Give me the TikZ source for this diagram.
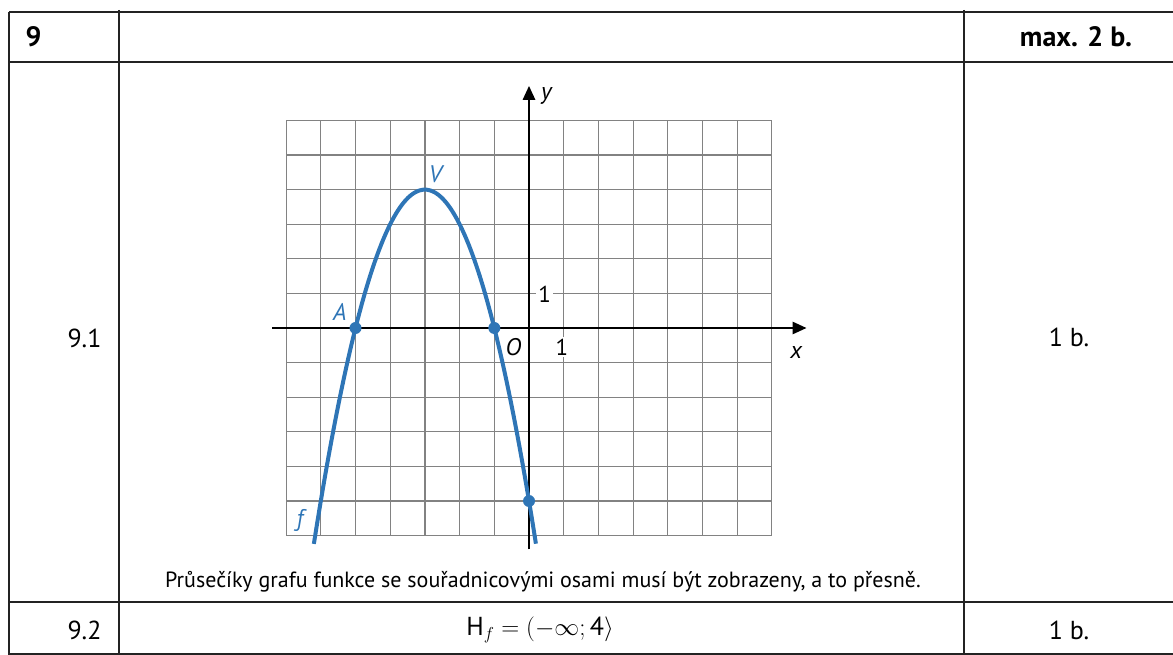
\documentclass[tikz,border=0pt]{standalone}
\usepackage{fontspec}
\setmainfont{PT Sans}
\usetikzlibrary{arrows.meta}
\definecolor{curveblue}{RGB}{46,117,182}
\definecolor{gridgray}{RGB}{130,130,130}
\definecolor{rulegray}{RGB}{35,35,35}

\begin{document}
\begin{tikzpicture}[x=1pt, y=-1pt,
  rule/.style={rulegray, line width=2pt},
  cell/.style={font=\fontsize{26}{30}\selectfont},
  head/.style={font=\fontsize{28}{32}\selectfont\bfseries},
  axis/.style={black, line width=2.6pt, -{Triangle[length=14pt, width=12pt]}},
  dot/.style={circle, fill=curveblue, minimum size=12pt, inner sep=0pt},
  ptlabel/.style={font=\fontsize{24}{26}\selectfont\itshape, text=curveblue, inner sep=1pt},
  axlabel/.style={font=\fontsize{24}{26}\selectfont\itshape, inner sep=1pt},
  unitlabel/.style={font=\fontsize{23}{26}\selectfont, fill=white, inner sep=2pt}]
\useasboundingbox (0,0) rectangle (1173,655);
% table rules
\draw[rule] (9,12) -- (1173,12);
\draw[rule] (9,62) -- (1173,62);
\draw[rule] (9,602) -- (1173,602);
\draw[rule] (9,654) -- (1173,654);
\draw[rule] (9,12) -- (9,655);
\draw[rule] (119,10) -- (119,655);
\draw[rule] (964,10) -- (964,655);
% table texts
\node[head, anchor=west] (num) at (22,37) {9};
\node[head] (maxb) at (1076,37) {max. 2 b.};
\node[cell, anchor=east] (p1) at (105,338) {9.1};
\node[cell] (b1) at (1069,337) {1 b.};
\node[cell, anchor=east] (p2) at (105,630) {9.2};
\node[cell] (range) at (540,630) {H$_{f}$ $=$ $(-\infty;$\,4$\rangle$};
\node[cell] (b2) at (1069,630) {1 b.};
\node[font=\fontsize{22}{24}\selectfont] (note) at (543,582)
  {Průsečíky grafu funkce se souřadnicovými osami musí být zobrazeny, a to přesně.};
% graph
\begin{scope}[shift={(529,328)}, x=34.7pt, y=34.6pt]
\draw[gridgray, line width=1.2pt, step=1] (-7,-6) grid (7,6);
\node[unitlabel] (one y) at (0.45,0.98) {1};
\node[unitlabel] (one x) at (0.95,-0.55) {1};
\coordinate (xs) at (-7.4,0);
\coordinate (xe) at (8,0);
\coordinate (ys) at (0,-6.4);
\coordinate (ye) at (0,7);
\draw[axis] (xs) -- (xe);
\draw[axis] (ys) -- (ye);
\draw[curveblue, line width=4pt] plot[domain=-6.2:0.2, samples=60, smooth] (\x, {-(\x+3)^2+4});
\node[dot] (A) at (-5,0) {};
\node[dot] (B) at (-1,0) {};
\node[dot] (C) at (0,-5) {};
\coordinate (V) at (-3,4);
\node[ptlabel] (lA) at (-5.45,0.45) {A};
\node[ptlabel] (lV) at (-2.7,4.45) {V};
\node[ptlabel] (lf) at (-6.6,-5.55) {f};
\node[axlabel] (lO) at (-0.45,-0.55) {O};
\node[axlabel] (lx) at (7.7,-0.72) {x};
\node[axlabel] (ly) at (0.5,6.7) {y};
\end{scope}
\end{tikzpicture}
\end{document}
